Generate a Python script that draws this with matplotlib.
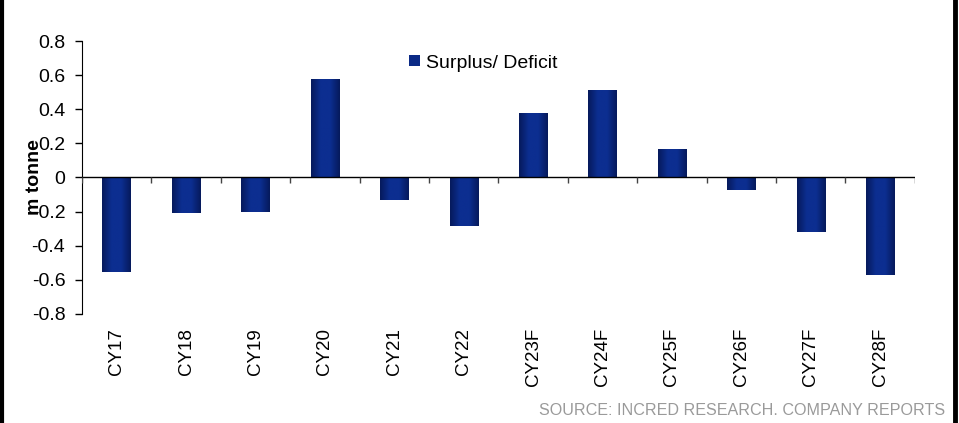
import numpy as np
import matplotlib.pyplot as plt
from matplotlib.colors import LinearSegmentedColormap
from matplotlib.lines import Line2D

plt.rcParams['font.family'] = ['Liberation Sans', 'DejaVu Sans']

years = ["CY17", "CY18", "CY19", "CY20", "CY21", "CY22",
         "CY23F", "CY24F", "CY25F", "CY26F", "CY27F", "CY28F"]
surplus = [-0.555, -0.21, -0.203, 0.569, -0.13, -0.285,
           0.375, 0.505, 0.16, -0.076, -0.32, -0.574]

fig = plt.figure(figsize=(9.59, 4.23), dpi=100)
ax = fig.add_axes([0.0855, 0.258, 0.8685, 0.645])

x = np.arange(len(years))
bars = ax.bar(x, surplus, width=0.41, color="#0B2A86", label="Surplus/ Deficit", zorder=2)

# horizontal shading on each bar: dark edges, brighter middle
cmap = LinearSegmentedColormap.from_list("bar", ["#061A5C", "#0C2E90", "#0C2E90", "#061A5C"])
grad = np.linspace(0, 1, 64).reshape(1, -1)
for b in bars:
    x0, w = b.get_x(), b.get_width()
    y0, h = b.get_y(), b.get_height()
    ax.imshow(grad, cmap=cmap, aspect="auto", zorder=2.5,
              extent=(x0, x0 + w, min(y0, y0 + h), max(y0, y0 + h)))

ax.set_xlim(-0.5, len(years) - 0.5)
ax.set_ylim(-0.8, 0.8)
ax.set_yticks(np.arange(-0.8, 0.81, 0.2))
ax.set_yticklabels(["-0.8", "-0.6", "-0.4", "-0.2", "0", "0.2", "0.4", "0.6", "0.8"])
ax.tick_params(axis="y", labelsize=14, length=5, width=1, direction="out", pad=7)

ax.set_xticks(x)
ax.set_xticklabels(years, rotation=90, fontsize=13.5)
ax.tick_params(axis="x", length=0, pad=10)

for s in ["top", "right", "bottom"]:
    ax.spines[s].set_visible(False)

# zero line with tick marks between categories
ax.axhline(0, color="black", lw=1, zorder=3)
ax.vlines(np.arange(-0.5, len(years)), -0.035, 0, color="#444444", lw=1, zorder=3)

ax.set_ylabel("m tonne", fontsize=14, fontweight="bold")
ax.yaxis.set_label_coords(-0.047, 0.5)

ax.legend(loc="center left", bbox_to_anchor=(409 / 959, 1 - 63 / 423),
          bbox_transform=fig.transFigure, frameon=False, fontsize=14,
          handlelength=0.55, handleheight=0.55, handletextpad=0.3,
          borderpad=0, borderaxespad=0)

fig.text(0.986, 0.012, "SOURCE: INCRED RESEARCH. COMPANY REPORTS", ha="right", va="bottom",
         fontsize=11.6, color="#9A9A9A")

fig.add_artist(Line2D([0.002, 0.002], [0, 1], color="black", lw=3, transform=fig.transFigure))
fig.add_artist(Line2D([0.9955, 0.9955], [0, 1], color="black", lw=3.5, transform=fig.transFigure))

fig.savefig("out.png", dpi=100)
